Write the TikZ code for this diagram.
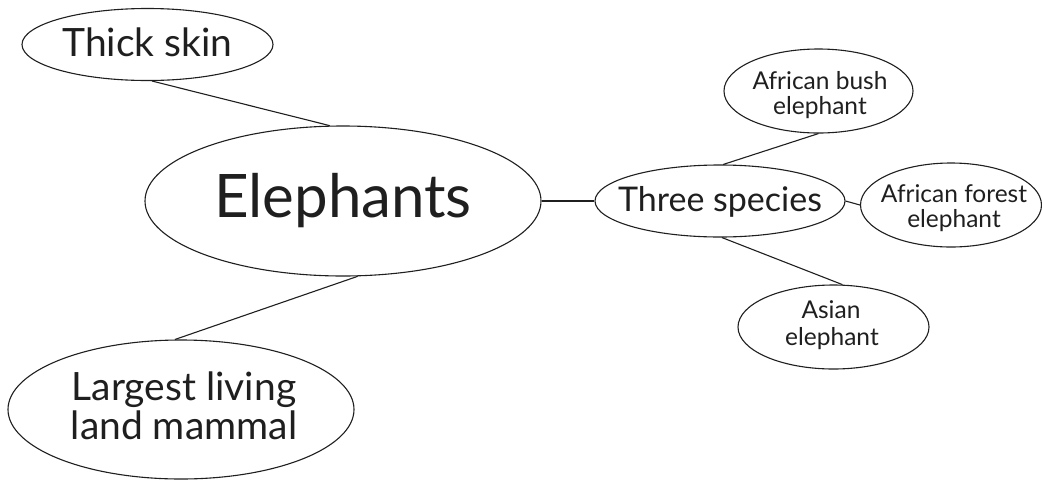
\documentclass[tikz,border=0pt]{standalone}
\usepackage{fontspec}
\setmainfont{Lato}
\usetikzlibrary{shapes.geometric}
\tikzset{
  bubble/.style={draw=black!88, ellipse, line width=1.1pt, inner sep=0pt},
  word/.style={anchor=base, inner sep=0pt, text=black!88},
  big/.style={word, font=\fontsize{60}{60}\selectfont},
  mid/.style={word, font=\fontsize{39}{39}\selectfont},
  med/.style={word, font=\fontsize{34}{34}\selectfont},
  small/.style={word, font=\fontsize{24.5}{24.5}\selectfont},
  link/.style={draw=black!88, line width=1.1pt},
}
\begin{document}
\begin{tikzpicture}[x=1pt,y=-1pt]
\useasboundingbox[fill=white] (0,0) rectangle (1042,480);
% bubbles
\node[bubble, minimum width=251pt, minimum height=72pt] (ts) at (147.5,44.5) {};
\node[bubble, minimum width=396pt, minimum height=150pt] (el) at (343,201) {};
\node[bubble, minimum width=346pt, minimum height=139pt] (lg) at (181,409.5) {};
\node[bubble, minimum width=250pt, minimum height=72pt] (sp) at (720,201) {};
\node[bubble, minimum width=189pt, minimum height=84pt] (bu) at (818.5,91) {};
\node[bubble, minimum width=181pt, minimum height=84pt] (fo) at (951,205) {};
\node[bubble, minimum width=191pt, minimum height=84pt] (as) at (833.5,327) {};
% texts
\node[mid] (tsT) at (147.5,56) {Thick skin};
\node[big] (elT) at (343,217) {Elephants};
\node[mid] (lgT1) at (184,400) {Largest living};
\node[mid] (lgT2) at (184,439) {land mammal};
\node[med] (spT) at (720,211) {Three species};
\node[small] (buT1) at (820,89) {African bush};
\node[small] (buT2) at (820,114) {elephant};
\node[small] (foT1) at (954,202) {African forest};
\node[small] (foT2) at (954,227) {elephant};
\node[small] (asT1) at (831,318) {Asian};
\node[small] (asT2) at (832,345) {elephant};
% connectors
\draw[link] (ts.-83) -- (el.100);
\draw[link] (el.-79) -- (lg.95);
\draw[link] (el.east) -- (sp.west);
\draw[link] (sp.85) -- (bu.south);
\draw[link] (sp.east) -- (fo.west);
\draw[link] (sp.-87) -- (as.78);
\end{tikzpicture}
\end{document}
